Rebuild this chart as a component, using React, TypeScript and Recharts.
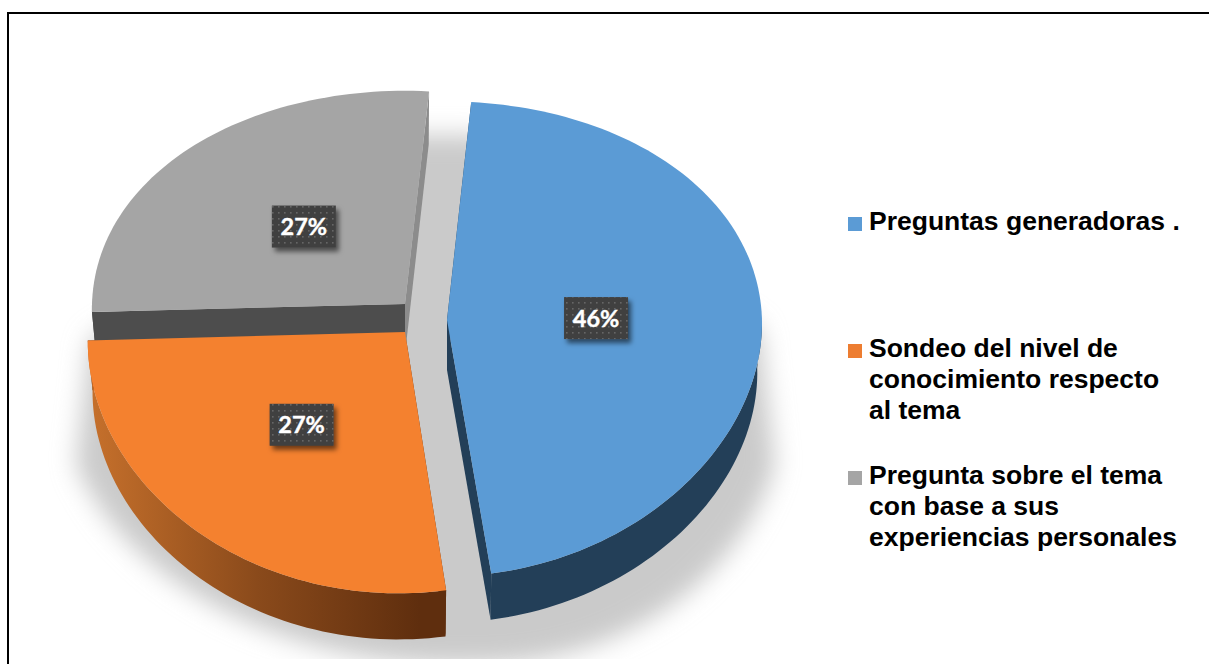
import React from 'react';
import { PieChart, Pie, Legend } from 'recharts';

// ---- data ----
const categories = [
  'Preguntas generadoras .',
  'Sondeo del nivel de conocimiento respecto al tema',
  'Pregunta sobre el tema con base a sus experiencias personales',
];
const values = [46.4, 26.8, 26.8];

// ---- styles ----
const topColors = ['#5b9bd5', '#f4812f', '#a5a5a5'];
const legendColors = ['#5b9bd5', '#ed7d31', '#a5a5a5'];
const arcColors = ['#233f58', 'url(#orangeSide)', '#4d4d4d'];
const startFaceColors = ['#233f58', '#5f2e0e', '#4d4d4d'];
const endFaceColors = ['#233f58', '#5f2e0e', '#8c8c8c'];
const legendTops = [206, 333, 460];

// exploded-slice projection: centre and radii of each slice on the page
const sliceX = [447, 405, 405];
const sliceY = [320, 332, 304];
const radiusX = [315, 317, 313];
const radiusY = [236, 242, 229];
const sliceShear = [-0.012, -0.025, 0];
const perspectiveY = [0.08, 0.074, 0.074];
const labelShiftX = [-2, -3, 2];
const labelShiftY = [2, 1, 0];
const PERSPECTIVE_X = 0.02;
const DEPTH = 50;
const BOTTOM_SCALE = 0.985;

const FIRST_ANGLE = 85.5; // clockwise from here
const chartData = categories.map((name, i) => ({ name, value: values[i], fill: topColors[i] }));

type P = [number, number];
const RAD = Math.PI / 180;

function project(i: number, angle: number, frac = 1): P {
  const u = Math.cos(angle * RAD) * frac;
  const v = -Math.sin(angle * RAD) * frac;
  const dy = (radiusY[i] * v) / (1 - perspectiveY[i] * v);
  const dx = (radiusX[i] * u) / (1 - PERSPECTIVE_X * v);
  return [sliceX[i] + dx + (dy > 0 ? sliceShear[i] * dy : 0), sliceY[i] + dy];
}
function drop(i: number, p: P): P {
  return [
    sliceX[i] + (p[0] - sliceX[i]) * BOTTOM_SCALE,
    sliceY[i] + (p[1] - sliceY[i]) * BOTTOM_SCALE + DEPTH,
  ];
}
function arc(i: number, a0: number, a1: number): P[] {
  const n = Math.max(2, Math.ceil(Math.abs(a1 - a0) / 1.5));
  const out: P[] = [];
  for (let k = 0; k <= n; k++) out.push(project(i, a0 + ((a1 - a0) * k) / n));
  return out;
}
const toPath = (pts: P[]) =>
  'M' + pts.map((p) => `${p[0].toFixed(2)},${p[1].toFixed(2)}`).join('L') + 'Z';

function SideShape(props: any) {
  const { index, startAngle, endAngle } = props;
  const c: P = [sliceX[index], sliceY[index]];
  const pts = arc(index, startAngle, endAngle);
  const first = pts[0];
  const last = pts[pts.length - 1];
  // only the near half of the rim can be seen
  const front = pts.filter((p) => p[1] >= sliceY[index] - 6);
  return (
    <g>
      <path d={toPath([c, first, drop(index, first), drop(index, c)])} fill={startFaceColors[index]} />
      <path d={toPath([c, last, drop(index, last), drop(index, c)])} fill={endFaceColors[index]} />
      <path d={toPath([...front, ...front.map((p) => drop(index, p)).reverse()])} fill={arcColors[index]} />
    </g>
  );
}

function TopShape(props: any) {
  const { index, startAngle, endAngle, fill } = props;
  const c: P = [sliceX[index], sliceY[index]];
  return <path d={toPath([c, ...arc(index, startAngle, endAngle)])} fill={fill} />;
}

function BoxLabel(props: any) {
  const { index, midAngle, percent } = props;
  const [px, py] = project(index, midAngle, 0.48);
  const x = px + labelShiftX[index];
  const y = py + labelShiftY[index];
  return (
    <g>
      <rect x={x - 32} y={y - 21} width={64} height={42} fill="#3f3f3f" filter="url(#boxShadow)" />
      <rect x={x - 32} y={y - 21} width={64} height={42} fill="url(#dots)" />
      <text
        x={x}
        y={y + 8.5}
        textAnchor="middle"
        fontFamily="Lato, sans-serif"
        fontWeight={700}
        fontSize={23.5}
        fill="#ffffff"
        stroke="#ffffff"
        strokeWidth={0.4}
      >
        {`${Math.round(percent * 100)}%`}
      </text>
    </g>
  );
}

function LegendContent(props: any) {
  const items = (props.payload || []).filter((it: any) => it.type !== 'none');
  const ordered = categories.map((name) => items.find((it: any) => it.value === name)).filter(Boolean);
  return (
    <div style={{ position: 'relative', width: 345, height: 360 }}>
      {ordered.map((it: any, i: number) => (
        <div
          key={i}
          style={{
            position: 'absolute',
            left: 0,
            top: legendTops[i] - 204,
            display: 'flex',
            alignItems: 'flex-start',
          }}
        >
          <span
            style={{
              display: 'block',
              flex: 'none',
              width: 14,
              height: 14,
              marginTop: 11,
              marginRight: 7,
              background: legendColors[i],
            }}
          />
          <span
            style={{
              display: 'block',
              width: 313,
              font: '700 26.5px/30.8px "Liberation Sans", Arial, sans-serif',
              color: '#000',
            }}
          >
            {it.value}
          </span>
        </div>
      ))}
    </div>
  );
}

export default function App() {
  return (
    <div style={{ position: 'absolute', left: 0, top: 0, width: 1209, height: 664, background: '#fff', overflow: 'hidden' }}>
      <div style={{ position: 'absolute', left: 7, top: 12, width: 1202, height: 652, borderLeft: '2px solid #000', borderTop: '2px solid #000', boxSizing: 'border-box' }} />
      <div style={{ position: 'absolute', left: 0, top: 0 }}>
        <PieChart width={1209} height={664} margin={{ top: 0, right: 0, bottom: 0, left: 0 }}>
          <defs>
            <linearGradient id="orangeSide" gradientUnits="userSpaceOnUse" x1="95" y1="0" x2="420" y2="0">
              <stop offset="0" stopColor="#c46f2b" />
              <stop offset="0.5" stopColor="#8a4a1b" />
              <stop offset="1" stopColor="#5f2e0e" />
            </linearGradient>
            <filter id="groundBlur" x="-10%" y="-10%" width="120%" height="120%">
              <feGaussianBlur stdDeviation="12" />
            </filter>
            <filter id="boxShadow" x="-20%" y="-20%" width="150%" height="150%">
              <feDropShadow dx="3" dy="4" stdDeviation="2.5" floodColor="#000" floodOpacity="0.55" />
            </filter>
            <pattern id="dots" width="6" height="6" patternUnits="userSpaceOnUse">
              <rect x="2" y="2" width="1.6" height="1.6" fill="#666666" />
            </pattern>
            <clipPath id="groundClip">
              <rect x="0" y="0" width="1209" height="659" />
            </clipPath>
          </defs>
          <g clipPath="url(#groundClip)">
            <path
              d="M405,135 L480,135 L760,330 L775,465 C745,570 630,668 470,664 C300,670 130,590 76,465 L90,340 Z"
              fill="#cacaca"
              filter="url(#groundBlur)"
            />
          </g>
          <Pie
            data={chartData}
            dataKey="value"
            nameKey="name"
            cx={405}
            cy={332}
            outerRadius={240}
            startAngle={FIRST_ANGLE}
            endAngle={FIRST_ANGLE - 360}
            stroke="none"
            legendType="none"
            shape={SideShape}
            isAnimationActive={false}
          />
          <Pie
            data={chartData}
            dataKey="value"
            nameKey="name"
            cx={405}
            cy={332}
            outerRadius={240}
            startAngle={FIRST_ANGLE}
            endAngle={FIRST_ANGLE - 360}
            stroke="none"
            shape={TopShape}
            label={BoxLabel}
            labelLine={false}
            isAnimationActive={false}
          />
          <Legend
            content={LegendContent}
            wrapperStyle={{ position: 'absolute', left: 848, top: 204, width: 345, height: 360 }}
          />
        </PieChart>
      </div>
    </div>
  );
}
